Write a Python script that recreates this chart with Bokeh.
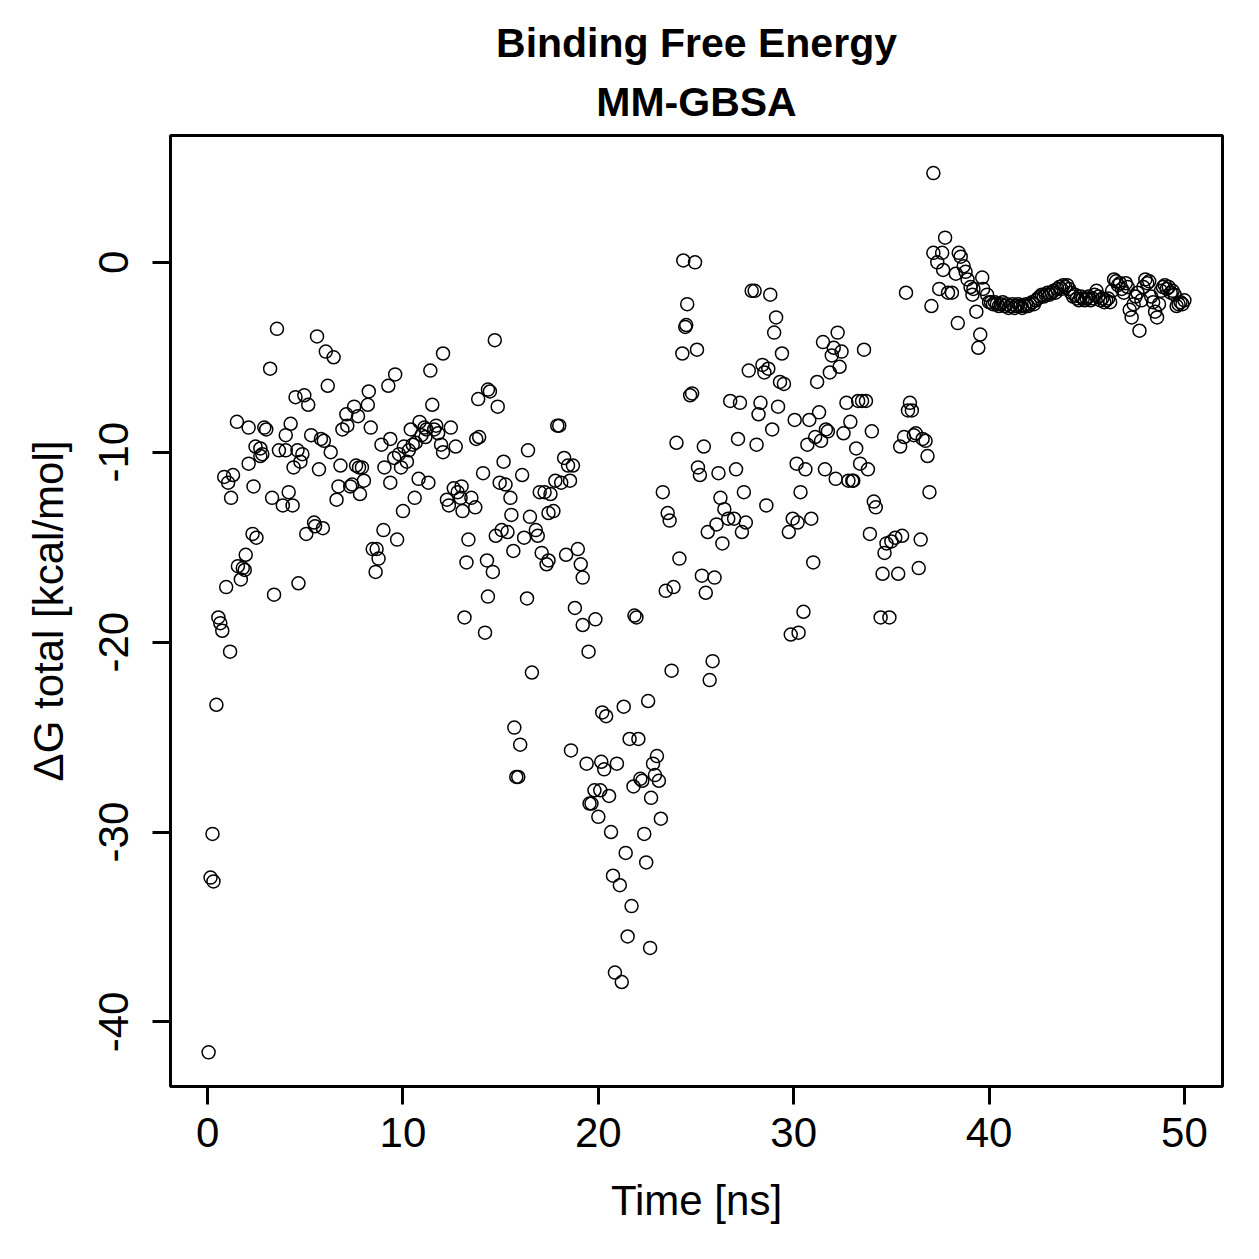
from bokeh.plotting import figure
from bokeh.models import Range1d, FixedTicker, Title
from bokeh.embed import file_html
from bokeh.resources import INLINE

# Time [ns] and binding free energy [kcal/mol], in windows
t_a = [0.05, 0.15, 0.25, 0.3, 0.45, 0.55, 0.65, 0.75, 0.85, 0.95,
       1.05, 1.15, 1.2, 1.3, 1.5, 1.55, 1.7, 1.8, 1.9, 1.95,
       2.1, 2.1, 2.3, 2.35, 2.45, 2.5, 2.7, 2.7, 2.8, 2.9,
       3.0, 3.2, 3.3, 3.4, 3.55, 3.65, 3.85, 4.0, 4.0, 4.15,
       4.25, 4.35, 4.4, 4.5, 4.6, 4.65, 4.75, 4.85, 4.95]
dg_a = [-41.6, -32.4, -30.1, -32.6, -23.3, -18.7, -19.0, -19.4, -11.3, -17.1,
        -11.6, -20.5, -12.4, -11.2, -8.4, -16.0, -16.7, -16.1, -16.2, -15.4,
        -8.7, -10.6, -14.3, -11.8, -9.7, -14.5, -10.2, -9.8, -10.1, -8.7,
        -8.8, -5.6, -12.4, -17.5, -3.5, -9.9, -12.8, -9.1, -9.9, -12.1,
        -8.5, -12.8, -10.8, -7.1, -9.9, -16.9, -10.5, -10.1, -7.0]

t_b = [5.05, 5.15, 5.3, 5.45, 5.5, 5.6, 5.7, 5.8, 5.9, 5.95,
       6.05, 6.15, 6.3, 6.45, 6.6, 6.7, 6.8, 6.9, 7.1, 7.15,
       7.3, 7.4, 7.5, 7.6, 7.7, 7.75, 7.8, 7.9, 8.0, 8.2,
       8.25, 8.35, 8.45, 8.6, 8.65, 8.75, 8.9, 9.0, 9.05, 9.25,
       9.35, 9.35, 9.55, 9.6, 9.7, 9.8, 9.9]
dg_b = [-14.3, -7.5, -9.1, -13.7, -13.9, -3.9, -10.9, -9.3, -14.0, -9.4,
        -4.7, -6.5, -10.0, -5.0, -12.5, -11.8, -10.7, -8.8, -8.0, -8.6,
        -11.8, -11.7, -7.6, -10.7, -8.1, -10.8, -12.2, -10.8, -11.5, -7.5,
        -6.8, -8.7, -15.1, -16.3, -15.1, -15.6, -9.6, -14.1, -10.8, -6.5,
        -9.3, -11.6, -10.3, -5.9, -14.6, -10.1, -10.8]

t_c = [10.0, 10.05, 10.2, 10.3, 10.4, 10.5, 10.6, 10.65, 10.8, 10.85,
       10.95, 11.1, 11.15, 11.2, 11.3, 11.4, 11.5, 11.6, 11.7, 11.8,
       11.95, 12.05, 12.05, 12.25, 12.35, 12.45, 12.6, 12.7, 12.8, 12.95,
       13.0, 13.05, 13.15, 13.25, 13.35, 13.5, 13.7, 13.75, 13.85, 13.9,
       14.1, 14.2, 14.3, 14.35, 14.35, 14.45, 14.6, 14.7, 14.75, 14.85,
       14.95]
dg_c = [-13.1, -9.7, -10.5, -9.9, -8.8, -9.6, -12.4, -9.5, -11.4, -8.4,
        -9.1, -8.7, -9.2, -8.8, -11.6, -5.7, -7.5, -8.8, -8.6, -9.0,
        -9.6, -10.0, -4.8, -12.5, -12.8, -8.7, -11.9, -9.7, -12.1, -12.4,
        -11.8, -13.1, -18.7, -15.8, -14.6, -12.4, -12.9, -9.3, -7.2, -9.2,
        -11.1, -19.5, -15.7, -6.7, -17.6, -6.8, -16.3, -4.1, -14.4, -7.6,
        -11.6]

t_d = [15.05, 15.15, 15.25, 15.35, 15.5, 15.55, 15.65, 15.7, 15.8, 15.9,
       16.0, 16.1, 16.2, 16.35, 16.4, 16.5, 16.6, 16.8, 16.9, 17.0,
       17.1, 17.25, 17.35, 17.45, 17.45, 17.55, 17.7, 17.8, 17.9, 18.0,
       18.1, 18.25, 18.35, 18.45, 18.55, 18.6, 18.7, 18.8, 18.95, 19.1,
       19.2, 19.2, 19.4, 19.5, 19.55, 19.65, 19.8, 19.85]
dg_d = [-14.1, -10.5, -11.7, -14.2, -12.4, -13.3, -15.2, -24.5, -27.1, -27.1,
        -25.4, -11.2, -14.5, -17.7, -9.9, -13.4, -21.6, -14.1, -14.4, -12.1,
        -15.3, -12.1, -15.9, -13.2, -15.7, -12.2, -13.1, -11.5, -8.6, -8.6,
        -11.6, -10.3, -15.4, -10.7, -11.5, -25.7, -10.7, -18.2, -15.1, -15.9,
        -16.6, -19.1, -26.4, -20.5, -28.5, -28.5, -27.8, -18.8]

t_e = [20.0, 20.1, 20.15, 20.2, 20.3, 20.4, 20.55, 20.65, 20.75, 20.85,
       20.95, 21.1, 21.2, 21.3, 21.4, 21.5, 21.6, 21.7, 21.8, 21.85,
       21.95, 22.05, 22.15, 22.25, 22.35, 22.45, 22.55, 22.65, 22.7, 22.8,
       22.9, 23.0, 23.1, 23.2, 23.3, 23.45, 23.55, 23.65, 23.75, 23.85,
       24.0, 24.15, 24.3, 24.35, 24.45, 24.5, 24.55, 24.7, 24.8, 24.95]
dg_e = [-29.2, -27.8, -26.3, -23.7, -26.7, -23.9, -28.1, -30.0, -32.3, -37.4,
        -26.4, -32.8, -37.9, -23.4, -31.1, -35.5, -25.1, -33.9, -27.6, -18.6,
        -18.7, -25.1, -27.2, -27.3, -30.1, -31.6, -23.1, -36.1, -28.2, -26.4,
        -27.0, -26.0, -27.3, -29.3, -12.1, -17.3, -13.2, -13.6, -21.5, -17.1,
        -9.5, -15.6, -4.8, 0.1, -3.4, -3.3, -2.2, -7.0, -6.9, 0.0]

t_f = [25.05, 25.1, 25.2, 25.3, 25.4, 25.5, 25.6, 25.7, 25.85, 25.95,
       26.05, 26.15, 26.25, 26.35, 26.45, 26.65, 26.75, 26.95, 27.05, 27.15,
       27.25, 27.35, 27.45, 27.55, 27.7, 27.85, 28.0, 28.1, 28.2, 28.3,
       28.4, 28.5, 28.6, 28.7, 28.8, 28.9, 29.0, 29.1, 29.2, 29.3,
       29.4, 29.5, 29.75, 29.85, 29.95]
dg_f = [-4.6, -10.8, -11.2, -16.5, -9.7, -17.4, -14.2, -22.0, -21.0, -16.6,
        -13.8, -11.1, -12.4, -14.8, -13.0, -13.5, -7.3, -13.5, -10.9, -9.3,
        -7.4, -14.2, -12.1, -13.7, -5.7, -1.5, -1.5, -9.6, -8.0, -7.4,
        -5.4, -5.8, -12.8, -5.6, -1.7, -8.8, -3.7, -2.9, -7.6, -6.3,
        -4.8, -6.4, -14.2, -19.6, -13.5]

t_g = [30.05, 30.15, 30.2, 30.25, 30.35, 30.5, 30.6, 30.7, 30.8, 30.9,
       31.0, 31.1, 31.2, 31.3, 31.4, 31.5, 31.6, 31.65, 31.75, 31.85,
       31.95, 32.05, 32.15, 32.25, 32.35, 32.45, 32.55, 32.7, 32.8, 32.9,
       33.0, 33.05, 33.2, 33.3, 33.4, 33.5, 33.6, 33.7, 33.8, 33.9,
       34.0, 34.1, 34.2, 34.45, 34.55, 34.65, 34.75, 34.9]
dg_g = [-8.3, -10.6, -13.7, -19.5, -12.1, -18.4, -10.9, -9.6, -8.3, -13.5,
        -15.8, -9.2, -6.3, -7.9, -9.4, -4.2, -10.9, -8.8, -8.9, -5.8,
        -4.9, -4.5, -11.4, -3.7, -5.5, -4.7, -9.0, -7.4, -11.5, -8.4,
        -11.5, -11.5, -9.8, -7.3, -10.6, -7.3, -4.6, -7.3, -10.9, -14.3,
        -8.9, -12.6, -12.9, -18.7, -16.4, -15.3, -14.8, -18.7]

t_h = [35.0, 35.2, 35.35, 35.45, 35.55, 35.65, 35.75, 35.85, 35.95, 36.05,
       36.15, 36.25, 36.4, 36.5, 36.6, 36.75, 36.85, 36.95, 37.05, 37.15,
       37.15, 37.35, 37.45, 37.6, 37.65, 37.75, 37.9, 38.1, 38.3, 38.4,
       38.45, 38.55, 38.7, 38.8, 38.9, 39.05, 39.15, 39.2, 39.35, 39.45,
       39.55, 39.65, 39.7, 39.9]
dg_h = [-14.7, -14.5, -16.4, -9.7, -14.4, -9.2, -1.6, -7.8, -7.4, -7.8,
        -9.1, -9.0, -16.1, -14.6, -9.3, -9.4, -10.2, -12.1, -2.3, 4.7,
        0.5, 0.0, -1.4, 0.5, -0.4, 1.3, -1.6, -1.6, -0.6, -3.2,
        0.5, 0.3, -0.2, -0.5, -0.9, -1.3, -1.7, -1.4, -2.6, -4.5,
        -3.8, -0.8, -1.4, -1.7]

t_i = [40.0, 40.1, 40.2, 40.3, 40.4, 40.5, 40.6, 40.7, 40.8, 40.9,
       41.0, 41.1, 41.2, 41.3, 41.4, 41.5, 41.6, 41.7, 41.8, 41.9,
       42.0, 42.1, 42.2, 42.3, 42.4, 42.5, 42.6, 42.7, 42.8, 42.9,
       43.0, 43.1, 43.2, 43.3, 43.4, 43.5, 43.6, 43.7, 43.8, 43.9,
       44.0, 44.1, 44.2, 44.3, 44.4, 44.5, 44.6, 44.7, 44.8, 44.9,
       45.0, 45.1, 45.2, 45.3, 45.4, 45.5, 45.6, 45.7, 45.8, 45.9,
       46.0, 46.1, 46.2, 46.3, 46.4, 46.5, 46.6, 46.7, 46.8, 46.9,
       47.0, 47.1, 47.2, 47.3, 47.4, 47.5, 47.6, 47.7, 47.8, 47.9,
       48.0, 48.1, 48.2, 48.3, 48.4, 48.5, 48.6, 48.7, 48.8, 48.9,
       49.0, 49.1, 49.2, 49.3, 49.4, 49.5, 49.6, 49.7, 49.8, 49.9,
       50.0]
dg_i = [-2.1, -2.1, -2.2, -2.1, -2.2, -2.3, -2.2, -2.1, -2.3, -2.2,
        -2.4, -2.3, -2.2, -2.4, -2.3, -2.2, -2.3, -2.4, -2.3, -2.2,
        -2.3, -2.2, -2.1, -2.2, -2.0, -1.9, -1.8, -1.7, -1.8, -1.7,
        -1.6, -1.7, -1.6, -1.5, -1.6, -1.4, -1.3, -1.4, -1.2, -1.3,
        -1.2, -1.4, -1.6, -1.8, -1.7, -1.9, -2.0, -1.8, -1.9, -2.0,
        -1.9, -1.8, -2.0, -1.9, -1.7, -1.5, -1.8, -2.0, -1.9, -2.1,
        -2.0, -1.9, -2.1, -1.5, -0.9, -1.0, -1.2, -1.1, -1.4, -1.6,
        -1.1, -1.3, -2.5, -2.9, -2.2, -1.8, -1.6, -3.6, -2.0, -1.3,
        -0.9, -1.1, -1.0, -1.8, -2.1, -2.6, -2.9, -2.2, -1.5, -1.3,
        -1.2, -1.4, -1.3, -1.6, -1.5, -1.7, -2.3, -2.2, -2.1, -2.2,
        -2.0]

x_ticks = [0, 10, 20, 30, 40, 50]
y_ticks = [-40, -30, -20, -10, 0]
y_tick_labels = ["-40", "-30", "-20", "-10", "0"]
title_lines = ["Binding Free Energy", "MM-GBSA"]

time_ns = t_a + t_b + t_c + t_d + t_e + t_f + t_g + t_h + t_i
dg_total = dg_a + dg_b + dg_c + dg_d + dg_e + dg_f + dg_g + dg_h + dg_i
assert len(time_ns) == len(dg_total)

FONT = "Liberation Sans"
FS = "42px"

p = figure(width=1259, height=1259, output_backend="svg", toolbar_location=None,
           x_range=Range1d(-1.9, 51.95), y_range=Range1d(-43.4, 6.68),
           min_border_left=170, min_border_right=37,
           min_border_top=135, min_border_bottom=173,
           title=title_lines[0])

p.title.text_font = FONT
p.title.text_font_size = "41px"
p.title.text_font_style = "bold"
p.title.align = "center"
p.title.text_color = "black"
p.title.standoff = 0
p.add_layout(Title(text=title_lines[1], align="center", text_font=FONT,
                   text_font_size="41px", text_font_style="bold", text_color="black",
                   text_line_height=0.85, standoff=22), "above")

p.scatter(time_ns, dg_total, marker="circle", size=13, fill_color=None,
          line_color="black", line_width=1.5)

p.grid.visible = False
p.outline_line_color = "black"
p.outline_line_width = 3
p.outline_line_alpha = 1.0
p.background_fill_color = "white"
p.border_fill_color = "white"

for ax in (p.xaxis[0], p.yaxis[0]):
    ax.axis_line_color = None
    ax.major_tick_line_color = "black"
    ax.major_tick_line_width = 3
    ax.major_tick_out = 18
    ax.major_tick_in = 0
    ax.minor_tick_line_color = None
    ax.major_label_text_font = FONT
    ax.major_label_text_font_size = FS
    ax.major_label_text_color = "black"
    ax.axis_label_text_font = FONT
    ax.axis_label_text_font_size = FS
    ax.axis_label_text_font_style = "normal"
    ax.axis_label_text_color = "black"

p.xaxis[0].ticker = FixedTicker(ticks=x_ticks)
p.yaxis[0].ticker = FixedTicker(ticks=y_ticks)
p.yaxis[0].major_label_overrides = {float(v): s for v, s in zip(y_ticks, y_tick_labels)}
p.xaxis[0].axis_label = "Time [ns]"
p.yaxis[0].axis_label = "\u0394G total [kcal/mol]"
p.xaxis[0].major_label_standoff = 13
p.xaxis[0].axis_label_standoff = 27
p.yaxis[0].major_label_orientation = "vertical"
p.yaxis[0].major_label_standoff = 24
p.yaxis[0].axis_label_standoff = 25

open("out.html", "w").write(file_html(p, INLINE))
